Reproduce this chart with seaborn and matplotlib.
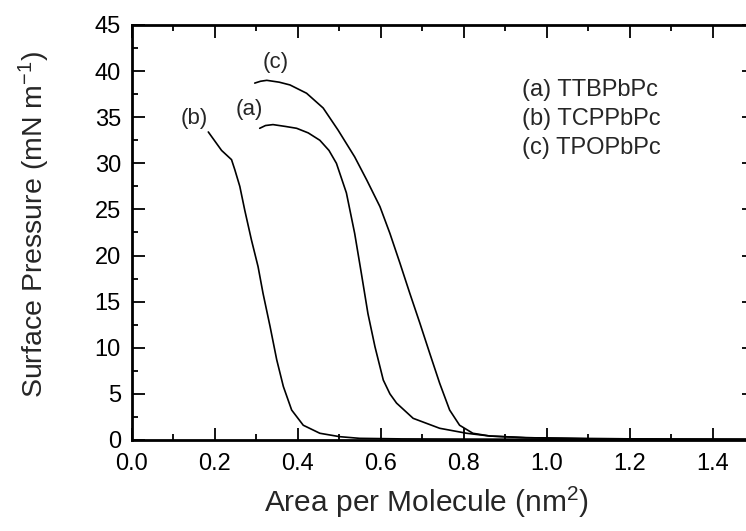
import numpy as np
import pandas as pd
import matplotlib
matplotlib.use("Agg")
import matplotlib.pyplot as plt
import seaborn as sns

# --- data ---
area_a = [0.308, 0.322, 0.340, 0.370, 0.397, 0.425, 0.453, 0.475, 0.493, 0.517, 0.537, 0.553, 0.569,
          0.586, 0.606, 0.622, 0.638, 0.678, 0.742, 0.807, 0.863, 0.95, 1.1, 1.3, 1.48]
press_a = [33.8, 34.1, 34.2, 34.0, 33.8, 33.3, 32.5, 31.4, 30.0, 26.8, 22.4, 18.1, 13.7,
           10.1, 6.5, 5.0, 4.0, 2.35, 1.27, 0.73, 0.43, 0.25, 0.15, 0.1, 0.08]

area_b = [0.184, 0.200, 0.216, 0.240, 0.248, 0.260, 0.272, 0.288, 0.304, 0.316, 0.333, 0.349,
          0.365, 0.385, 0.413, 0.453, 0.501, 0.549, 0.65, 0.8, 1.0, 1.2, 1.48]
press_b = [33.4, 32.4, 31.4, 30.4, 29.3, 27.5, 24.9, 21.7, 18.8, 15.9, 12.3, 8.7,
           5.8, 3.25, 1.6, 0.73, 0.36, 0.18, 0.12, 0.1, 0.08, 0.06, 0.05]

area_c = [0.296, 0.310, 0.325, 0.355, 0.381, 0.421, 0.461, 0.497, 0.537, 0.566, 0.598, 0.622, 0.646,
          0.670, 0.694, 0.718, 0.742, 0.766, 0.790, 0.822, 0.863, 0.95, 1.1, 1.3, 1.48]
press_c = [38.7, 38.9, 39.0, 38.8, 38.5, 37.6, 36.0, 33.6, 30.7, 28.2, 25.3, 22.4, 19.2,
           15.9, 12.7, 9.4, 6.15, 3.25, 1.6, 0.73, 0.43, 0.25, 0.15, 0.1, 0.08]

labels = ["(a)", "(b)", "(c)"]
legend_lines = ["(a) TTBPbPc", "(b) TCPPbPc", "(c) TPOPbPc"]
xtick_vals = [0.0, 0.2, 0.4, 0.6, 0.8, 1.0, 1.2, 1.4]
ytick_vals = [0, 5, 10, 15, 20, 25, 30, 35, 40, 45]

df = pd.concat([
    pd.DataFrame({"area": area_a, "pressure": press_a, "film": "(a)"}),
    pd.DataFrame({"area": area_b, "pressure": press_b, "film": "(b)"}),
    pd.DataFrame({"area": area_c, "pressure": press_c, "film": "(c)"}),
], ignore_index=True)

sns.set_theme(style="ticks")
plt.rcParams['font.family'] = ['Liberation Sans', 'DejaVu Sans']
plt.rcParams['mathtext.fontset'] = 'custom'
plt.rcParams['mathtext.rm'] = 'Liberation Sans'
plt.rcParams['mathtext.it'] = 'Liberation Sans'

fig = plt.figure(figsize=(7.46, 5.31), dpi=100)
ax = fig.add_axes([132/746, (531-440)/531, 622/746, 415/531])

sns.lineplot(data=df, x="area", y="pressure", hue="film", units="film",
             estimator=None, sort=False, palette=["black"]*3, linewidth=1.2,
             legend=False, ax=ax)

ax.set_xlim(0, 1.5)
ax.set_ylim(0, 45)
ax.set_xticks(xtick_vals)
ax.set_xticks(np.arange(0.1, 1.5, 0.2), minor=True)
ax.set_yticks(ytick_vals)
ax.set_yticks(np.arange(2.5, 45, 5), minor=True)
ax.set_xticklabels([f"{v:.1f}" for v in xtick_vals])
ax.set_yticklabels([str(v) for v in ytick_vals])
ax.tick_params(which='both', direction='in', top=True, right=True, colors='black',
               labelsize=17, width=1.3)
ax.tick_params(which='major', length=9)
ax.tick_params(which='minor', length=4.5)
ax.tick_params(axis='x', which='major', pad=9)
ax.tick_params(axis='y', which='major', pad=8)
for s in ax.spines.values():
    s.set_linewidth(2)
    s.set_color('black')

ax.set_xlabel("Area per Molecule (nm$^{2}$)", fontsize=21.5)
ax.set_ylabel("Surface Pressure (mN m$^{-1}$)", fontsize=20.5)
ax.xaxis.set_label_coords(0.473, -0.108, transform=ax.transAxes)
ax.yaxis.set_label_coords(-0.128, 0.52, transform=ax.transAxes)

# curve labels
ax.text(0.149, 34.9, labels[1], fontsize=16, ha='center', va='center')
ax.text(0.282, 35.8, labels[0], fontsize=16, ha='center', va='center')
ax.text(0.347, 40.9, labels[2], fontsize=16, ha='center', va='center')

ax.text(0.94, 39.1, "\n".join(legend_lines), fontsize=17, ha='left', va='top',
        linespacing=1.4)

fig.savefig("out.png", dpi=100)
